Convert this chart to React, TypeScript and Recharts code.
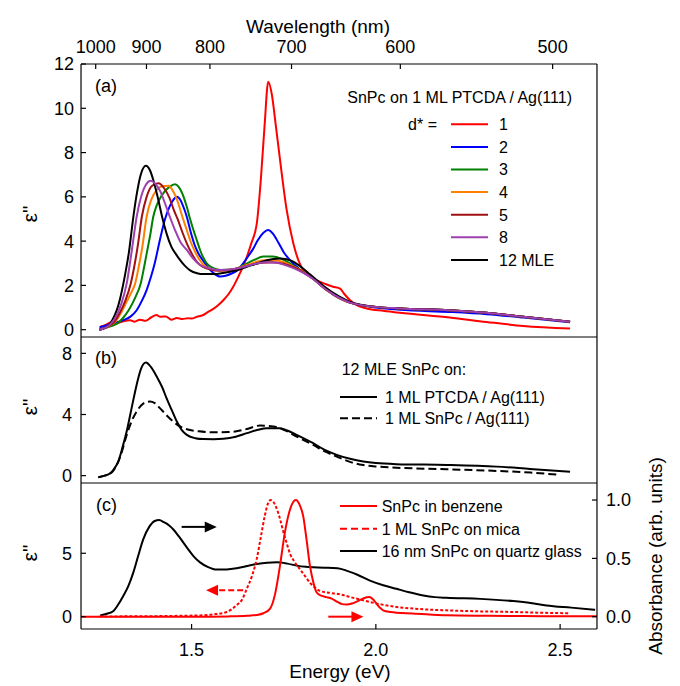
import React from 'react';
import { LineChart, Line, XAxis, YAxis, ReferenceLine, ReferenceDot } from 'recharts';

type P = [number, number];
const FONT = '"Liberation Sans", Arial, Helvetica, sans-serif';
const HC = 1239.84;

// ---------- axes / ticks ----------
const energyDomain: [number, number] = [1.2, 2.6];
const energyMajor = [1.5, 2.0, 2.5];
const energyMinor = [1.3, 1.4, 1.6, 1.7, 1.8, 1.9, 2.1, 2.2, 2.3, 2.4];
const wavelengthMajor = [1000, 900, 800, 700, 600, 500];
const wavelengthMinor = [1020, 980, 960, 940, 920, 880, 860, 840, 820, 780, 760, 740, 720, 680, 660, 640, 620, 580, 560, 540, 520, 480];

const aDomain: [number, number] = [-0.33, 12];
const aMajor = [0, 2, 4, 6, 8, 10, 12];
const aMinor = [1, 3, 5, 7, 9, 11];
const bDomain: [number, number] = [-0.48, 9.07];
const bMajor = [0, 4, 8];
const bMinor = [2, 6];
const cLeftDomain: [number, number] = [-0.97, 10.54];
const cLeftMajor = [0, 5];
const cLeftMinor = [2.5, 7.5];
const cRightDomain: [number, number] = [-0.105, 1.146];
const cRightMajor = [0, 0.5, 1.0];
const cRightMinor = [0.25, 0.75];

// ---------- panel (a): SnPc on 1 ML PTCDA / Ag(111), d* = ----------
const aD1: P[] = [[1.252,0.13],[1.265,0.2],[1.28,0.32],[1.29,0.25],[1.3,0.3],[1.315,0.38],[1.333,0.43],[1.345,0.36],[1.36,0.45],[1.375,0.4],[1.39,0.55],[1.405,0.66],[1.415,0.58],[1.43,0.6],[1.445,0.45],[1.46,0.53],[1.475,0.48],[1.49,0.52],[1.5,0.5],[1.514,0.58],[1.53,0.65],[1.545,0.8],[1.56,0.95],[1.575,1.15],[1.586,1.33],[1.6,1.6],[1.613,1.94],[1.631,2.54],[1.648,3.2],[1.662,3.9],[1.677,4.8],[1.688,6.8],[1.698,9.2],[1.708,11.2],[1.718,10.6],[1.728,9.3],[1.74,7.67],[1.758,5.41],[1.776,3.9],[1.803,2.69],[1.839,2.24],[1.865,2.05],[1.884,1.94],[1.903,1.85],[1.915,1.6],[1.93,1.33],[1.955,1.05],[1.975,0.96],[2.02,0.85],[2.065,0.76],[2.2,0.55],[2.3,0.35],[2.4,0.17],[2.527,0.05]];
const aD2: P[] = [[1.25,0.1],[1.27,0.2],[1.29,0.3],[1.315,0.43],[1.335,0.6],[1.351,0.88],[1.365,1.3],[1.378,1.79],[1.39,2.4],[1.4,3.0],[1.414,4.05],[1.428,5.0],[1.44,5.55],[1.45,5.85],[1.46,6.0],[1.47,5.85],[1.48,5.45],[1.487,5.1],[1.497,4.45],[1.51,3.75],[1.52,3.4],[1.532,3.1],[1.545,2.8],[1.56,2.55],[1.577,2.4],[1.595,2.45],[1.61,2.55],[1.622,2.65],[1.64,3.0],[1.655,3.35],[1.667,3.65],[1.68,4.05],[1.695,4.38],[1.708,4.5],[1.72,4.35],[1.735,3.95],[1.75,3.5],[1.767,3.14],[1.785,2.85],[1.8,2.62],[1.821,2.4],[1.84,2.2],[1.865,1.85],[1.894,1.48],[1.925,1.25],[1.957,1.11],[2.0,1.0],[2.065,0.9],[2.2,0.8],[2.3,0.7],[2.4,0.55],[2.527,0.33]];
const aD3: P[] = [[1.25,0.0],[1.28,0.15],[1.3,0.3],[1.315,0.55],[1.33,0.9],[1.347,1.45],[1.362,2.09],[1.372,2.9],[1.38,3.6],[1.388,4.3],[1.396,5.1],[1.405,5.6],[1.415,5.95],[1.425,6.2],[1.44,6.45],[1.455,6.57],[1.465,6.45],[1.475,6.15],[1.487,5.55],[1.496,5.0],[1.505,4.5],[1.515,4.0],[1.523,3.6],[1.532,3.25],[1.541,3.0],[1.559,2.78],[1.58,2.7],[1.61,2.72],[1.64,2.9],[1.67,3.15],[1.695,3.3],[1.72,3.3],[1.75,3.15],[1.78,2.85],[1.821,2.42],[1.87,1.75],[1.93,1.22],[2.0,1.03],[2.065,0.96],[2.2,0.88],[2.3,0.76],[2.4,0.58],[2.527,0.36]];
const aD4: P[] = [[1.25,0.0],[1.275,0.15],[1.295,0.4],[1.31,0.8],[1.325,1.3],[1.337,1.7],[1.347,2.09],[1.356,2.8],[1.366,3.7],[1.378,5.1],[1.39,5.85],[1.405,6.3],[1.42,6.48],[1.437,6.5],[1.45,6.25],[1.462,5.8],[1.475,5.1],[1.487,4.5],[1.498,3.95],[1.51,3.5],[1.522,3.15],[1.535,2.9],[1.55,2.75],[1.575,2.68],[1.61,2.72],[1.65,2.92],[1.69,3.12],[1.72,3.15],[1.75,3.05],[1.78,2.82],[1.821,2.42],[1.87,1.75],[1.93,1.22],[2.0,1.03],[2.065,0.96],[2.2,0.88],[2.3,0.76],[2.4,0.58],[2.527,0.36]];
const aD5: P[] = [[1.25,0.0],[1.27,0.12],[1.29,0.35],[1.305,0.75],[1.32,1.3],[1.335,2.09],[1.345,2.9],[1.355,3.9],[1.365,5.1],[1.378,6.0],[1.393,6.5],[1.41,6.61],[1.425,6.4],[1.44,5.95],[1.452,5.4],[1.462,5.0],[1.475,4.4],[1.487,3.9],[1.5,3.45],[1.515,3.05],[1.53,2.85],[1.55,2.72],[1.575,2.66],[1.61,2.72],[1.65,2.88],[1.69,3.02],[1.72,3.05],[1.75,2.98],[1.78,2.8],[1.821,2.4],[1.87,1.75],[1.93,1.22],[2.0,1.03],[2.065,0.96],[2.2,0.88],[2.3,0.76],[2.4,0.58],[2.527,0.36]];
const aD8: P[] = [[1.25,0.0],[1.265,0.08],[1.28,0.25],[1.295,0.6],[1.31,1.2],[1.324,2.09],[1.338,3.6],[1.351,5.1],[1.363,6.0],[1.376,6.55],[1.389,6.73],[1.4,6.62],[1.415,6.25],[1.428,5.7],[1.441,5.1],[1.455,4.5],[1.47,3.95],[1.487,3.6],[1.505,3.2],[1.523,2.92],[1.55,2.76],[1.577,2.69],[1.62,2.75],[1.66,2.92],[1.7,3.05],[1.73,3.02],[1.76,2.88],[1.79,2.68],[1.821,2.4],[1.87,1.75],[1.93,1.22],[2.0,1.03],[2.065,0.96],[2.2,0.88],[2.3,0.76],[2.4,0.58],[2.527,0.36]];
const aD12: P[] = [[1.25,0.0],[1.265,0.08],[1.279,0.28],[1.29,0.6],[1.297,0.88],[1.306,1.4],[1.315,2.09],[1.323,2.8],[1.33,3.5],[1.342,5.1],[1.352,6.2],[1.362,7.0],[1.376,7.4],[1.387,7.2],[1.398,6.65],[1.41,5.85],[1.42,5.1],[1.432,4.35],[1.445,3.75],[1.458,3.4],[1.469,3.14],[1.482,2.88],[1.496,2.68],[1.515,2.55],[1.532,2.51],[1.56,2.51],[1.585,2.56],[1.604,2.62],[1.63,2.72],[1.65,2.84],[1.68,3.0],[1.704,3.14],[1.74,3.22],[1.77,3.12],[1.8,2.8],[1.821,2.5],[1.86,1.95],[1.9,1.5],[1.93,1.25],[2.0,1.03],[2.065,0.96],[2.2,0.88],[2.3,0.76],[2.4,0.58],[2.527,0.36]];

const aLabels = ['1', '2', '3', '4', '5', '8', '12 MLE'];
const aColors = ['#ff0000', '#0000ff', '#008000', '#ff8000', '#a01010', '#a040b0', '#000000'];

// ---------- panel (b): 12 MLE SnPc on ----------
const bPtcda: P[] = [[1.247,-0.1],[1.265,0.0],[1.279,0.15],[1.29,0.45],[1.301,0.92],[1.312,1.8],[1.324,2.9],[1.338,4.5],[1.351,5.95],[1.363,7.0],[1.376,7.4],[1.39,7.1],[1.405,6.5],[1.42,5.8],[1.432,5.07],[1.446,4.3],[1.46,3.54],[1.473,3.0],[1.487,2.67],[1.51,2.45],[1.532,2.39],[1.56,2.38],[1.586,2.41],[1.62,2.55],[1.65,2.78],[1.68,3.0],[1.704,3.1],[1.74,3.1],[1.76,2.95],[1.785,2.67],[1.83,2.12],[1.86,1.7],[1.894,1.36],[1.93,1.1],[1.966,0.92],[2.0,0.82],[2.056,0.75],[2.192,0.7],[2.328,0.59],[2.418,0.44],[2.527,0.26]];
const bSnpc: P[] = [[1.247,-0.1],[1.27,0.05],[1.285,0.25],[1.297,0.7],[1.31,1.5],[1.324,2.67],[1.338,3.6],[1.351,4.2],[1.368,4.7],[1.387,4.85],[1.4,4.75],[1.414,4.42],[1.43,4.0],[1.45,3.54],[1.47,3.2],[1.487,3.04],[1.52,2.9],[1.559,2.84],[1.6,2.85],[1.622,2.9],[1.65,3.05],[1.686,3.28],[1.722,3.21],[1.75,3.0],[1.785,2.56],[1.83,2.01],[1.86,1.6],[1.894,1.25],[1.93,0.9],[1.966,0.7],[2.0,0.6],[2.056,0.52],[2.192,0.42],[2.328,0.31],[2.42,0.2],[2.5,0.05]];

// ---------- panel (c) ----------
const cBenzene: P[] = [[1.2,0.0],[1.5,0.0],[1.6,0.003],[1.65,0.008],[1.677,0.015],[1.695,0.03],[1.713,0.07],[1.727,0.2],[1.74,0.44],[1.752,0.7],[1.762,0.86],[1.772,0.96],[1.783,1.0],[1.793,0.96],[1.803,0.86],[1.812,0.66],[1.821,0.44],[1.83,0.3],[1.839,0.21],[1.852,0.18],[1.866,0.168],[1.88,0.155],[1.894,0.13],[1.908,0.108],[1.921,0.104],[1.935,0.113],[1.948,0.13],[1.965,0.155],[1.982,0.168],[1.992,0.15],[2.002,0.111],[2.012,0.075],[2.02,0.055],[2.04,0.04],[2.056,0.034],[2.1,0.028],[2.192,0.012],[2.3,0.008],[2.45,0.005],[2.6,0.005]];
const cMica: P[] = [[1.25,0.02],[1.35,0.03],[1.45,0.06],[1.52,0.1],[1.56,0.18],[1.595,0.37],[1.622,0.9],[1.638,1.4],[1.65,2.21],[1.665,3.3],[1.677,4.58],[1.688,6.3],[1.699,8.0],[1.707,8.9],[1.715,9.19],[1.723,9.0],[1.731,8.52],[1.74,7.7],[1.749,6.69],[1.758,5.8],[1.767,4.97],[1.78,4.3],[1.794,3.74],[1.808,3.2],[1.821,2.68],[1.835,2.3],[1.848,2.03],[1.875,1.88],[1.902,1.77],[1.93,1.55],[1.966,1.29],[2.0,1.05],[2.056,0.77],[2.12,0.6],[2.192,0.5],[2.28,0.42],[2.373,0.37],[2.45,0.31],[2.527,0.27]];
const cQuartz: P[] = [[1.252,0.01],[1.27,0.025],[1.288,0.05],[1.3,0.1],[1.315,0.18],[1.328,0.26],[1.342,0.38],[1.355,0.52],[1.369,0.665],[1.385,0.77],[1.4,0.82],[1.412,0.828],[1.425,0.81],[1.44,0.78],[1.45,0.75],[1.465,0.69],[1.487,0.594],[1.505,0.52],[1.523,0.466],[1.545,0.425],[1.568,0.404],[1.595,0.405],[1.622,0.415],[1.65,0.435],[1.677,0.452],[1.705,0.463],[1.731,0.466],[1.76,0.455],[1.785,0.438],[1.81,0.428],[1.83,0.424],[1.86,0.42],[1.884,0.418],[1.905,0.41],[1.92,0.395],[1.95,0.36],[1.984,0.31],[2.02,0.27],[2.056,0.239],[2.09,0.21],[2.129,0.182],[2.16,0.168],[2.192,0.162],[2.283,0.153],[2.373,0.134],[2.42,0.118],[2.463,0.097],[2.53,0.078],[2.595,0.06]];

// arrows (data coordinates on left axis of panel c)
const arrowQuartz = { from: 1.473, to: 1.542, head: 1.552, y: 7.08 };
const arrowMica = { from: 1.64, to: 1.566, head: 1.5555, y: 2.08 };
const arrowBenzene = { from: 1.871, to: 1.94, head: 1.95, y: 0.0 };

const pts = (arr: P[]) => arr.map(([x, y]) => ({ x, y }));
// chart-level rows spanning the energy range, so axes without series still get a domain
const domainRows = energyDomain.map((x) => ({ x }));

// ---------- styling ----------
const axisStyle = { stroke: '#000', strokeWidth: 1.2 };
const tickFont = { fill: '#000', fontSize: 18, fontFamily: FONT };
const MAJ = -5;
const MIN = -3;
const AX = 0.01; // tiny axis thickness so margins alone define the plot area
const fmt1 = (v: number) => v.toFixed(1);

const bottomAxes = (labels: boolean) => [
  <XAxis key="xb" xAxisId="b" type="number" dataKey="x" domain={energyDomain} allowDataOverflow ticks={energyMajor} interval={0}
    height={AX} orientation="bottom" axisLine={axisStyle} tickLine={axisStyle} tickSize={MAJ} tickMargin={19}
    tick={labels ? tickFont : false} tickFormatter={fmt1} />,
  <XAxis key="xbm" xAxisId="bm" type="number" dataKey="x" domain={energyDomain} allowDataOverflow ticks={energyMinor} interval={0}
    height={AX} orientation="bottom" axisLine={false} tickLine={axisStyle} tickSize={MIN} tick={false} />,
];

const sideAxes = (id: string, domain: [number, number], major: number[], minor: number[], margin: number, rightLabels: boolean) => [
  <YAxis key={id + 'l'} yAxisId={id} orientation="left" type="number" domain={domain} allowDataOverflow ticks={major} interval={0}
    width={AX} axisLine={axisStyle} tickLine={axisStyle} tickSize={MAJ} tickMargin={margin} tick={tickFont} />,
  <YAxis key={id + 'lm'} yAxisId={id + 'm'} orientation="left" type="number" domain={domain} allowDataOverflow ticks={minor} interval={0}
    width={AX} axisLine={false} tickLine={axisStyle} tickSize={MIN} tick={false} />,
  ...(rightLabels ? [] : [
    <YAxis key={id + 'r'} yAxisId={id + 'r'} orientation="right" type="number" domain={domain} allowDataOverflow ticks={major} interval={0}
      width={AX} axisLine={axisStyle} tickLine={axisStyle} tickSize={MAJ} tick={false} />,
    <YAxis key={id + 'rm'} yAxisId={id + 'rm'} orientation="right" type="number" domain={domain} allowDataOverflow ticks={minor} interval={0}
      width={AX} axisLine={false} tickLine={axisStyle} tickSize={MIN} tick={false} />,
  ]),
];

const headRight = (p: any) => (
  <polygon points={`${p.cx + 6},${p.cy} ${p.cx - 6},${p.cy - 5.5} ${p.cx - 6},${p.cy + 5.5}`} fill={p.fill} />
);
const headLeft = (p: any) => (
  <polygon points={`${p.cx - 6},${p.cy} ${p.cx + 6},${p.cy - 5.5} ${p.cx + 6},${p.cy + 5.5}`} fill={p.fill} />
);

const aSeries = [aD1, aD2, aD3, aD4, aD5, aD8, aD12];
const aOrder = [0, 1, 2, 3, 4, 6, 5];

export default function App() {
  const W = 680;
  return (
    <div style={{ position: 'absolute', left: 0, top: 0, width: W, height: 686, background: '#fff', fontFamily: FONT }}>
      {/* panel (a) */}
      <div style={{ position: 'absolute', left: 0, top: 0 }}>
        <LineChart width={W} height={345} data={domainRows} margin={{ top: 64, right: 83, bottom: 8, left: 81 }}>
          <XAxis xAxisId="t" orientation="top" type="number" dataKey="x" domain={energyDomain} allowDataOverflow
            ticks={wavelengthMajor.map((w) => HC / w)} interval={0} height={AX} axisLine={axisStyle} tickLine={axisStyle}
            tickSize={MAJ} tickMargin={16} tick={tickFont} tickFormatter={(v: number) => String(Math.round(HC / v))} />
          <XAxis xAxisId="tm" orientation="top" type="number" dataKey="x" domain={energyDomain} allowDataOverflow
            ticks={wavelengthMinor.map((w) => HC / w)} interval={0} height={AX} axisLine={false} tickLine={axisStyle}
            tickSize={MIN} tick={false} />
          {bottomAxes(false)}
          {sideAxes('a', aDomain, aMajor, aMinor, 12, false)}
          {aOrder.map((i) => (
            <Line key={i} xAxisId="b" yAxisId="a" data={pts(aSeries[i])} dataKey="y" type="monotone" stroke={aColors[i]}
              strokeWidth={2} dot={false} activeDot={false} isAnimationActive={false} />
          ))}
        </LineChart>
      </div>
      {/* panel (b) */}
      <div style={{ position: 'absolute', left: 0, top: 330 }}>
        <LineChart width={W} height={160} data={domainRows} margin={{ top: 7, right: 83, bottom: 7, left: 81 }}>
          {bottomAxes(false)}
          {sideAxes('b', bDomain, bMajor, bMinor, 14, false)}
          <Line xAxisId="b" yAxisId="b" data={pts(bSnpc)} dataKey="y" type="monotone" stroke="#000" strokeWidth={2}
            strokeDasharray="8 4" dot={false} activeDot={false} isAnimationActive={false} />
          <Line xAxisId="b" yAxisId="b" data={pts(bPtcda)} dataKey="y" type="monotone" stroke="#000" strokeWidth={2}
            dot={false} activeDot={false} isAnimationActive={false} />
        </LineChart>
      </div>
      {/* panel (c) */}
      <div style={{ position: 'absolute', left: 0, top: 476 }}>
        <LineChart width={W} height={210} data={domainRows} margin={{ top: 7, right: 83, bottom: 57, left: 81 }}>
          {bottomAxes(true)}
          {sideAxes('c', cLeftDomain, cLeftMajor, cLeftMinor, 14, true)}
          <YAxis yAxisId="cr" orientation="right" type="number" domain={cRightDomain} allowDataOverflow ticks={cRightMajor} interval={0}
            width={AX} axisLine={axisStyle} tickLine={axisStyle} tickSize={MAJ} tickMargin={14} tick={tickFont} tickFormatter={fmt1} />
          <YAxis yAxisId="crm" orientation="right" type="number" domain={cRightDomain} allowDataOverflow ticks={cRightMinor} interval={0}
            width={AX} axisLine={false} tickLine={axisStyle} tickSize={MIN} tick={false} />
          <Line xAxisId="b" yAxisId="cr" data={pts(cQuartz)} dataKey="y" type="monotone" stroke="#000" strokeWidth={2}
            dot={false} activeDot={false} isAnimationActive={false} />
          <Line xAxisId="b" yAxisId="c" data={pts(cMica)} dataKey="y" type="monotone" stroke="#ff0000" strokeWidth={2}
            strokeDasharray="3 2" dot={false} activeDot={false} isAnimationActive={false} />
          <Line xAxisId="b" yAxisId="cr" data={pts(cBenzene)} dataKey="y" type="monotone" stroke="#ff0000" strokeWidth={2}
            dot={false} activeDot={false} isAnimationActive={false} />
          <ReferenceLine xAxisId="b" yAxisId="c" segment={[{ x: arrowQuartz.from, y: arrowQuartz.y }, { x: arrowQuartz.to, y: arrowQuartz.y }]}
            stroke="#000" strokeWidth={2} />
          <ReferenceDot xAxisId="b" yAxisId="c" x={arrowQuartz.head} y={arrowQuartz.y} r={6} fill="#000" stroke="none" shape={headRight} />
          <ReferenceLine xAxisId="b" yAxisId="c" segment={[{ x: arrowMica.from, y: arrowMica.y }, { x: arrowMica.to, y: arrowMica.y }]}
            stroke="#ff0000" strokeWidth={2} strokeDasharray="6 3" />
          <ReferenceDot xAxisId="b" yAxisId="c" x={arrowMica.head} y={arrowMica.y} r={6} fill="#ff0000" stroke="none" shape={headLeft} />
          <ReferenceLine xAxisId="b" yAxisId="c" segment={[{ x: arrowBenzene.from, y: arrowBenzene.y }, { x: arrowBenzene.to, y: arrowBenzene.y }]}
            stroke="#ff0000" strokeWidth={2} />
          <ReferenceDot xAxisId="b" yAxisId="c" x={arrowBenzene.head} y={arrowBenzene.y} r={6} fill="#ff0000" stroke="none" shape={headRight} />
        </LineChart>
      </div>
      {/* text & legends */}
      <svg width={W} height={686} style={{ position: 'absolute', left: 0, top: 0, pointerEvents: 'none' }} fontFamily={FONT} fill="#000">
        <text x={318} y={33} textAnchor="middle" fontSize={19}>Wavelength (nm)</text>
        <text x={340} y={678} textAnchor="middle" fontSize={19}>Energy (eV)</text>
        <text transform="translate(662,556) rotate(-90)" textAnchor="middle" fontSize={19}>Absorbance (arb. units)</text>
        <text transform="translate(37,214) rotate(-90)" textAnchor="middle" fontSize={21}>ε"</text>
        <text transform="translate(37,407) rotate(-90)" textAnchor="middle" fontSize={21}>ε"</text>
        <text transform="translate(37,553) rotate(-90)" textAnchor="middle" fontSize={21}>ε"</text>

        <text x={95} y={92} fontSize={18}>(a)</text>
        <text x={572} y={103} textAnchor="end" fontSize={16}>SnPc on 1 ML PTCDA / Ag(111)</text>
        <text x={437} y={130} textAnchor="end" fontSize={16}>d* =</text>
        {aLabels.map((lab, i) => {
          const y = 124.3 + i * 22.6;
          return (
            <g key={lab}>
              <line x1={451} x2={488} y1={y} y2={y} stroke={aColors[i]} strokeWidth={2} />
              <text x={499} y={y + 5.8} fontSize={16}>{lab}</text>
            </g>
          );
        })}

        <text x={95} y={364} fontSize={18}>(b)</text>
        <text x={341.7} y={375} fontSize={16}>12 MLE SnPc on:</text>
        <line x1={340} x2={377} y1={397} y2={397} stroke="#000" strokeWidth={2} />
        <text x={385} y={402.8} fontSize={16}>1 ML PTCDA / Ag(111)</text>
        <line x1={340} x2={377} y1={418.3} y2={418.3} stroke="#000" strokeWidth={2} strokeDasharray="8 4" />
        <text x={385} y={424.1} fontSize={16}>1 ML SnPc / Ag(111)</text>

        <text x={96} y={511} fontSize={18}>(c)</text>
        <line x1={340} x2={377} y1={506} y2={506} stroke="#ff0000" strokeWidth={2} />
        <text x={381.7} y={511.8} fontSize={16}>SnPc in benzene</text>
        <line x1={340} x2={377} y1={528.7} y2={528.7} stroke="#ff0000" strokeWidth={2} strokeDasharray="7 4" />
        <text x={381.7} y={534.5} fontSize={16}>1 ML SnPc on mica</text>
        <line x1={340} x2={377} y1={551} y2={551} stroke="#000" strokeWidth={2} />
        <text x={381.7} y={556.8} fontSize={16}>16 nm SnPc on quartz glass</text>
      </svg>
    </div>
  );
}
